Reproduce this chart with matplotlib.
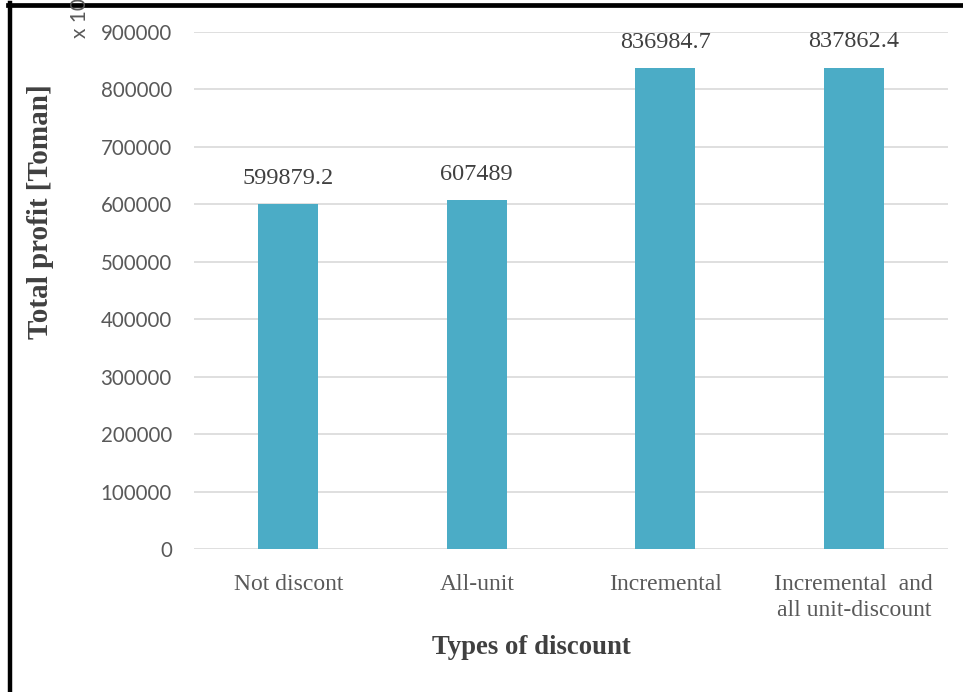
import matplotlib
matplotlib.use("Agg")
import matplotlib.pyplot as plt
from matplotlib.lines import Line2D

categories = ["Not discont", "All-unit", "Incremental", "Incremental  and\nall unit-discount"]
profits = [599879.2, 607489, 836984.7, 837862.4]
value_labels = ["599879.2", "607489", "836984.7", "837862.4"]
yticks = [0, 100000, 200000, 300000, 400000, 500000, 600000, 700000, 800000, 900000]

fig = plt.figure(figsize=(9.63, 6.92), dpi=100)
ax = fig.add_axes([194/963, 1-549/692, (948-194)/963, (549-32)/692])

x = list(range(len(categories)))
ax.bar(x, profits, width=0.32, color="#4bacc6", zorder=3)
ax.set_xlim(-0.5, len(categories)-0.5)
ax.set_ylim(0, 900000)
ax.set_yticks(yticks)
ax.set_yticklabels([str(v) for v in yticks], fontfamily="Lato", fontsize=14.8, color="#595959")
ax.yaxis.grid(True, color="#d9d9d9", linewidth=1.2, zorder=0)
ax.set_axisbelow(True)
for s in ax.spines.values():
    s.set_visible(False)
ax.tick_params(axis="y", length=0, pad=16)
ax.tick_params(axis="x", length=0, pad=18)
ax.set_xticks(x)
ax.set_xticklabels(categories, fontfamily="Liberation Serif", fontsize=17, color="#595959", linespacing=1.3)

for xi, v, lab in zip(x, profits, value_labels):
    ax.annotate(lab, (xi, v), xytext=(0, 11), textcoords="offset points", ha="center", va="bottom",
                fontfamily="Liberation Serif", fontsize=17.5, color="#404040")

fig.text(531/963, 1-647/692, "Types of discount", ha="center", va="center",
         fontfamily="Liberation Serif", fontweight="bold", fontsize=19.3, color="#404040")
fig.text(40/963, 1-212/692, "Total profit [Toman]", ha="center", va="center", rotation=90,
         fontfamily="Liberation Serif", fontweight="bold", fontsize=21, color="#404040")
fig.text(80/963, 1-38/692, "x 10", ha="center", va="bottom", rotation=90,
         fontfamily="Lato", fontsize=15, color="#595959")

fig.add_artist(Line2D([10/963, 10/963], [0, 1-3/692], transform=fig.transFigure, color="black", linewidth=3.2))
fig.add_artist(Line2D([8/963, 1], [1-5/692, 1-5/692], transform=fig.transFigure, color="black", linewidth=3.4))

fig.savefig("out.png", dpi=100)
